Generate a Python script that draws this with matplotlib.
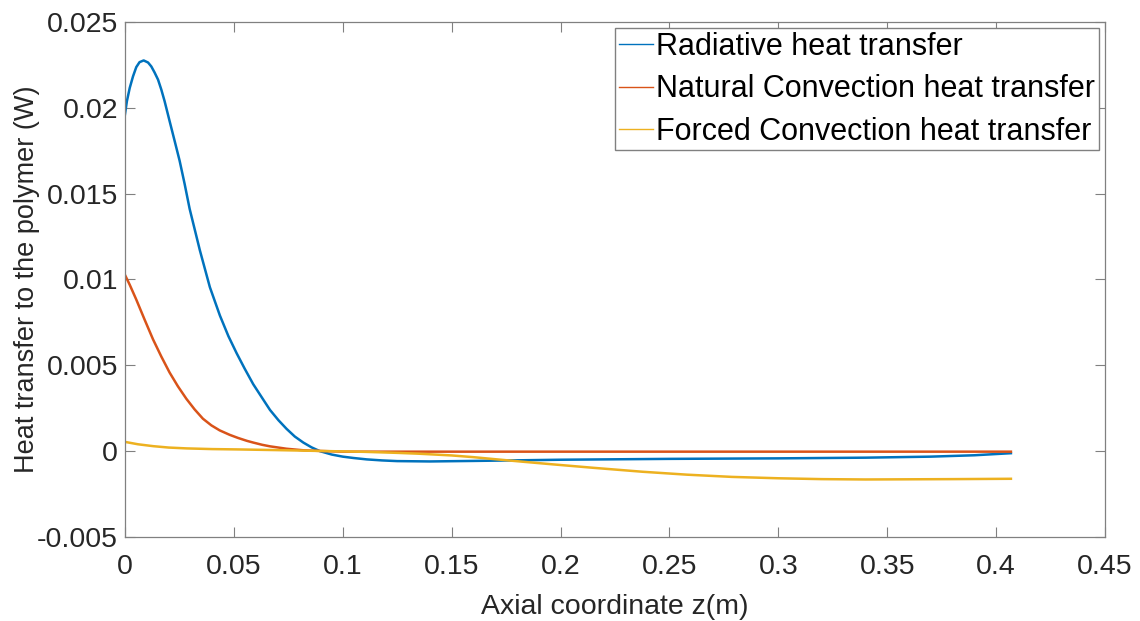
import matplotlib
matplotlib.use('Agg')
import matplotlib.pyplot as plt

# Values
z_rad = [0, 0.0009, 0.0022, 0.0037, 0.0052, 0.0067, 0.0086, 0.0106, 0.0121, 0.0136,
         0.0152, 0.0167, 0.0182, 0.0205, 0.0228, 0.0251, 0.0274, 0.0297, 0.0344, 0.039,
         0.0436, 0.0475, 0.0513, 0.055, 0.0589, 0.063, 0.0666, 0.0705, 0.0742, 0.078,
         0.0819, 0.0857, 0.0895, 0.095, 0.1, 0.105, 0.111, 0.118, 0.125, 0.14,
         0.16, 0.2, 0.25, 0.3, 0.34, 0.37, 0.39, 0.4068]
q_rad = [0.01961, 0.02039, 0.02116, 0.02183, 0.02237, 0.02266, 0.02276, 0.02264, 0.02241, 0.02206,
         0.02164, 0.02106, 0.02039, 0.01923, 0.01808, 0.01692, 0.01557, 0.01412, 0.0117, 0.00955,
         0.0079, 0.0067, 0.0057, 0.0048, 0.0039, 0.0031, 0.0024, 0.0018, 0.0013, 0.00085,
         0.0005, 0.00022, 0.0, -0.0002, -0.00032, -0.0004, -0.00048, -0.00054, -0.00058, -0.0006,
         -0.00057, -0.0005, -0.00045, -0.00042, -0.00038, -0.00032, -0.00024, -0.00012]

z_nat = [0, 0.0022, 0.0052, 0.009, 0.0129, 0.0167, 0.0205, 0.0243, 0.0282, 0.032,
         0.0358, 0.0397, 0.0435, 0.0481, 0.0519, 0.056, 0.0589, 0.063, 0.0666, 0.0742,
         0.0819, 0.09, 0.1, 0.2, 0.3, 0.4068]
q_nat = [0.01027, 0.00969, 0.00883, 0.00767, 0.00651, 0.00551, 0.00458, 0.00378, 0.00305, 0.00243,
         0.00189, 0.0015, 0.00121, 0.00095, 0.00077, 0.0006, 0.0005, 0.00037, 0.00028, 0.00014,
         0.00005, 0.00001, -0.00003, -0.00003, -0.00003, -0.00003]

z_forced = [0, 0.006, 0.013, 0.02, 0.0283, 0.04, 0.052, 0.07, 0.09, 0.11,
            0.125, 0.135, 0.15, 0.16, 0.17, 0.183, 0.1965, 0.215, 0.2376, 0.258,
            0.2787, 0.3, 0.32, 0.34, 0.36, 0.38, 0.4068]
q_forced = [0.00054, 0.0004, 0.00029, 0.00021, 0.00016, 0.00012, 0.0001, 0.00006, 0.00001, -0.00004,
            -0.0001, -0.00015, -0.00025, -0.00035, -0.00047, -0.00062, -0.00077, -0.00097, -0.0012, -0.00137,
            -0.0015, -0.00158, -0.00163, -0.00165, -0.00164, -0.00163, -0.00161]

labels = ['Radiative heat transfer', 'Natural Convection heat transfer', 'Forced Convection heat transfer']
colors = ['#0072BD', '#D95319', '#EDB120']

plt.rcParams['font.family'] = ['Liberation Sans', 'DejaVu Sans']

fig = plt.figure(figsize=(11.4, 6.21), dpi=100)
ax = fig.add_axes([0.1096, 0.1353, 0.8597, 0.8293])

ax.plot(z_rad, q_rad, color=colors[0], lw=1.8, label=labels[0])
ax.plot(z_nat, q_nat, color=colors[1], lw=1.8, label=labels[1])
ax.plot(z_forced, q_forced, color=colors[2], lw=1.8, label=labels[2])

ax.set_xlim(0, 0.45)
ax.set_ylim(-0.005, 0.025)
ax.set_xticks([0, 0.05, 0.1, 0.15, 0.2, 0.25, 0.3, 0.35, 0.4, 0.45])
ax.set_xticklabels(['0', '0.05', '0.1', '0.15', '0.2', '0.25', '0.3', '0.35', '0.4', '0.45'])
ax.set_yticks([-0.005, 0, 0.005, 0.01, 0.015, 0.02, 0.025])
ax.set_yticklabels(['-0.005', '0', '0.005', '0.01', '0.015', '0.02', '0.025'])

ax.tick_params(direction='in', top=True, right=True, length=7, width=0.8,
               colors='#808080', labelcolor='#262626', labelsize=20.5)
ax.tick_params(axis='y', pad=5)
ax.tick_params(axis='x', pad=12)
for s in ax.spines.values():
    s.set_color('#808080')
    s.set_linewidth(0.9)

ax.set_xlabel('Axial coordinate z(m)', fontsize=20.5, color='#262626', labelpad=10)
ax.set_ylabel('Heat transfer to the polymer (W)', fontsize=19.5, color='#262626', labelpad=-2)

leg = ax.legend(loc='upper right', fontsize=22, handlelength=1.1, handletextpad=0.12,
                borderaxespad=0.2, borderpad=0.12, labelspacing=0.41, fancybox=False,
                framealpha=1, edgecolor='#808080')
for line in leg.get_lines():
    line.set_linewidth(1.0)

fig.savefig('out.png', dpi=100)
